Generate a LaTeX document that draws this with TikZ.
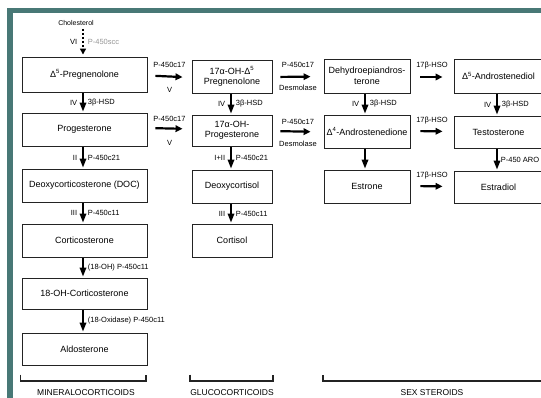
\documentclass[tikz,border=0pt]{standalone}
\usepackage{fontspec}
\setmainfont{Liberation Sans}
\usetikzlibrary{arrows.meta}
\definecolor{frameteal}{RGB}{72,120,118}
\definecolor{boxline}{RGB}{35,35,35}
\definecolor{faint}{RGB}{150,150,150}
\tikzset{
  box/.style={draw=boxline, line width=0.9pt, fill=white, align=center, inner sep=1pt,
    font=\fontsize{9}{10.5}\selectfont},
  boxA/.style={box, minimum width=125pt},
  boxB/.style={box, minimum width=80pt},
  boxC/.style={box, minimum width=86pt},
  boxD/.style={box, minimum width=89pt},
  varrow/.style={line width=1.8pt, -{Triangle[length=9pt,width=6.5pt]}, shorten <=1pt, shorten >=1pt},
  harrow/.style={line width=2.2pt, -{Triangle[length=7pt,width=6.5pt]}},
  darrow/.style={line width=1.8pt, dashed, dash pattern=on 2.5pt off 1.5pt, -{Triangle[length=6pt,width=6pt]}},
  lab/.style={font=\fontsize{7.5}{8.5}\selectfont, inner sep=1pt, align=center},
  grp/.style={font=\fontsize{8.5}{9.5}\selectfont, inner sep=0pt, anchor=north},
  bracket/.style={line width=1.2pt, draw=boxline}
}
\begin{document}
\begin{tikzpicture}[x=1pt,y=-1pt]
\useasboundingbox (0,0) rectangle (541,398);
% frame
\draw[frameteal, line width=5.5pt] (9.75,10.75) rectangle (620,620);

% Cholesterol
\node[font=\fontsize{7}{8}\selectfont, inner sep=1pt] (chol) at (76,23) {Cholesterol};

% Column A
\node[boxA, minimum height=35pt] (preg) at (84.5,74.5) {Δ\textsuperscript{5}-Pregnenolone};
\node[boxA, minimum height=33pt] (prog) at (84.5,129.5) {Progesterone};
\node[boxA, minimum height=33pt] (doc) at (84.5,185.5) {Deoxycorticosterone (DOC)};
\node[boxA, minimum height=33pt] (cortico) at (84.5,240.5) {Corticosterone};
\node[boxA, minimum height=31pt] (ohcort) at (84.5,293.5) {18-OH-Corticosterone};
\node[boxA, minimum height=32pt] (aldo) at (84.5,349) {Aldosterone};

% Column B
\node[boxB, minimum height=33pt] (ohpreg) at (232,76.5) {17α-OH-Δ\textsuperscript{5}\\Pregnenolone};
\node[boxB, minimum height=31pt] (ohprog) at (232,130.5) {17α-OH-\\Progesterone};
\node[boxB, minimum height=33pt] (dcortisol) at (232,186.5) {Deoxycortisol};
\node[boxB, minimum height=33pt] (cortisol) at (232,240.5) {Cortisol};

% Column C
\node[boxC, minimum height=34pt] (dhea) at (367,76) {Dehydroepiandros-\\terone};
\node[boxC, minimum height=33pt] (andro) at (367,131.5) {Δ\textsuperscript{4}-Androstenedione};
\node[boxC, minimum height=33pt] (estrone) at (367,186.5) {Estrone};

% Column D
\node[boxD, minimum height=34pt] (androdiol) at (498.5,76) {Δ\textsuperscript{5}-Androstenediol};
\node[boxD, minimum height=32pt] (testo) at (498.5,132) {Testosterone};
\node[boxD, minimum height=32pt] (estradiol) at (498.5,187) {Estradiol};

% Cholesterol -> Pregnenolone
\draw[darrow, shorten <=2pt, shorten >=2pt] ([xshift=-1.5pt]preg.north |- chol.south) -- ([xshift=-1.5pt]preg.north)
  node[midway, left=4pt, lab] {VI}
  node[midway, right=3pt, lab, text=faint] {P-450scc};

% vertical arrows column A
\draw[varrow] ([xshift=-1.5pt]preg.south) -- ([xshift=-1.5pt]prog.north)
  node[midway, left=4pt, lab] {IV} node[midway, right=3pt, lab] {3β-HSD};
\draw[varrow] ([xshift=-1.5pt]prog.south) -- ([xshift=-1.5pt]doc.north)
  node[midway, left=4pt, lab] {II} node[midway, right=3pt, lab] {P-450c21};
\draw[varrow] ([xshift=-1.5pt]doc.south) -- ([xshift=-1.5pt]cortico.north)
  node[midway, left=4pt, lab] {III} node[midway, right=3pt, lab] {P-450c11};
\draw[varrow] ([xshift=-1.5pt]cortico.south) -- ([xshift=-1.5pt]ohcort.north)
  node[midway, right=3pt, lab] {(18-OH) P-450c11};
\draw[varrow] ([xshift=-1.5pt]ohcort.south) -- ([xshift=-1.5pt]aldo.north)
  node[midway, right=3pt, lab] {(18-Oxidase) P-450c11};

% vertical arrows column B
\draw[varrow] ([xshift=-1pt]ohpreg.south) -- ([xshift=-1pt]ohprog.north)
  node[midway, left=4pt, lab] {IV} node[midway, right=3pt, lab] {3β-HSD};
\draw[varrow] ([xshift=-1pt]ohprog.south) -- ([xshift=-1pt]dcortisol.north)
  node[midway, left=4pt, lab] {I+II} node[midway, right=3pt, lab] {P-450c21};
\draw[varrow] ([xshift=-1pt]dcortisol.south) -- ([xshift=-1pt]cortisol.north)
  node[midway, left=4pt, lab] {III} node[midway, right=3pt, lab] {P-450c11};

% vertical arrows column C
\draw[varrow] ([xshift=-2pt]dhea.south) -- ([xshift=-2pt]andro.north)
  node[midway, left=4pt, lab] {IV} node[midway, right=3pt, lab] {3β-HSD};
\draw[varrow] ([xshift=-2pt]andro.south) -- ([xshift=-2pt]estrone.north);

% vertical arrows column D
\draw[varrow] ([xshift=-1.5pt]androdiol.south) -- ([xshift=-1.5pt]testo.north)
  node[midway, left=4pt, lab] {IV} node[midway, right=3pt, lab] {3β-HSD};
\draw[varrow] ([xshift=-1.5pt]testo.south) -- ([xshift=-1.5pt]estradiol.north)
  node[midway, right=2pt, lab] {P-450 ARO};

% horizontal arrows A -> B
\draw[harrow, shorten <=8pt, shorten >=9pt] ([yshift=-1pt]preg.east) -- ([yshift=-1pt]ohpreg.west)
  node[midway, yshift=12pt, lab] {P-450c17}
  node[midway, yshift=-13pt, lab] {V};
\draw[harrow, shorten <=8pt, shorten >=9pt] ([yshift=1.5pt]prog.east) -- ([yshift=1.5pt]ohprog.west)
  node[midway, yshift=10pt, lab] {P-450c17}
  node[midway, yshift=-14pt, lab] {V};

% horizontal arrows B -> C
\draw[harrow, shorten <=8pt, shorten >=13pt] ([yshift=-0.5pt]ohpreg.east) -- ([yshift=-0.5pt]dhea.west)
  node[midway, yshift=12pt, lab] {P-450c17}
  node[midway, yshift=-11pt, lab] {Desmolase};
\draw[harrow, shorten <=8pt, shorten >=13pt] ([yshift=-0.5pt]ohprog.east) -- ([yshift=-0.5pt]andro.west)
  node[midway, yshift=10pt, lab] {P-450c17}
  node[midway, yshift=-12pt, lab] {Desmolase};

% horizontal arrows C -> D
\draw[harrow, shorten <=10pt, shorten >=11pt] ([yshift=-1pt]dhea.east) -- ([yshift=-1pt]androdiol.west)
  node[midway, yshift=11pt, lab] {17β-HSO};
\draw[harrow, shorten <=10pt, shorten >=11pt] ([yshift=0.5pt]andro.east) -- ([yshift=0.5pt]testo.west)
  node[midway, yshift=11pt, lab] {17β-HSO};
\draw[harrow, shorten <=10pt, shorten >=11pt] ([yshift=0.5pt]estrone.east) -- ([yshift=0.5pt]estradiol.west)
  node[midway, yshift=11pt, lab] {17β-HSO};

% group brackets
\draw[bracket] (20.5,374.5) -- (20.5,381) -- (146,381) -- (146,374.5);
\draw[bracket] (190,374.5) -- (190,381) -- (273,381) -- (273,374.5);
\draw[bracket] (323,375) -- (323,381) -- (560,381);

\node[grp] (mineral) at (86,389.5) {MINERALOCORTICOIDS};
\node[grp] (gluco) at (232,389.5) {GLUCOCORTICOIDS};
\node[grp] (sex) at (432,389.5) {SEX STEROIDS};
\end{tikzpicture}
\end{document}
